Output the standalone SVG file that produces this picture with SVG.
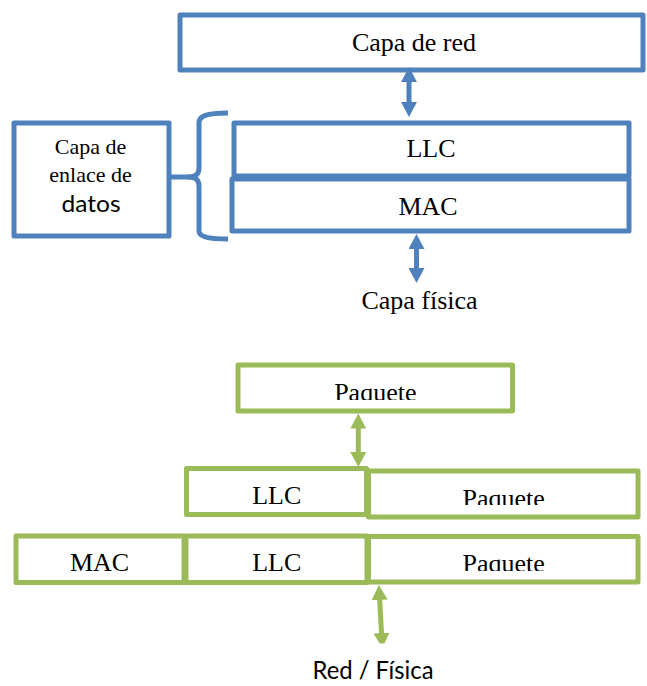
<svg xmlns="http://www.w3.org/2000/svg" width="647" height="686" viewBox="0 0 647 686">
<style>
  .b { fill: #ffffff; stroke: #4F81BD; stroke-width: 5; stroke-linejoin: round; }
  .g { fill: #ffffff; stroke: #9BBB59; stroke-width: 5; stroke-linejoin: round; }
  .bl { fill: none; stroke: #4F81BD; stroke-width: 5; }
  .gl { fill: none; stroke: #9BBB59; stroke-width: 5; }
  .serif { font-family: "Liberation Serif", "Times New Roman", serif; font-size: 26px; fill: #000; text-anchor: middle; }
  .small { font-size: 22px; }
  .sans { font-family: Lato, "Liberation Sans", Arial, sans-serif; fill: #000; text-anchor: middle; }
</style>
<defs>
  <marker id="hb" markerUnits="userSpaceOnUse" markerWidth="16" markerHeight="16" refX="5" refY="8" orient="auto-start-reverse">
    <path d="M0,0 L15,8 L0,16 z" fill="#4F81BD"/>
  </marker>
  <marker id="hg" markerUnits="userSpaceOnUse" markerWidth="16" markerHeight="16" refX="5" refY="8" orient="auto-start-reverse">
    <path d="M0,0 L15,8 L0,16 z" fill="#9BBB59"/>
  </marker>
  <clipPath id="c1"><rect x="0" y="360" width="647" height="40"/></clipPath>
  <clipPath id="c2"><rect x="0" y="470" width="366" height="34"/></clipPath>
  <clipPath id="c3"><rect x="366" y="470" width="281" height="35"/></clipPath>
  <clipPath id="c4"><rect x="0" y="538" width="647" height="33"/></clipPath>
  <clipPath id="c5"><rect x="0" y="580" width="647" height="63.5"/></clipPath>
</defs>

<!-- Top (blue) diagram -->
<g id="capa-red">
  <rect class="b" x="180" y="15" width="463" height="55"/>
  <text class="serif" x="414" y="50.5">Capa de red</text>
</g>
<g id="llc">
  <rect class="b" x="234" y="123" width="395" height="53"/>
  <text class="serif" x="431" y="157">LLC</text>
</g>
<g id="mac">
  <rect class="b" x="232" y="179" width="397" height="52"/>
  <text class="serif" x="428" y="215">MAC</text>
</g>
<g id="enlace">
  <rect class="b" x="14" y="123" width="155" height="113"/>
  <text class="serif small" x="90.5" y="153.5">Capa de</text>
  <text class="serif small" x="90.5" y="182">enlace de</text>
  <text class="sans" x="91" y="212" font-size="24" textLength="59" lengthAdjust="spacingAndGlyphs">datos</text>
</g>
<g id="capa-fisica">
  <text class="serif" x="419.5" y="309">Capa física</text>
</g>

<!-- Bottom (green) diagram -->
<g id="paquete-top">
  <rect class="g" x="238" y="365" width="274.5" height="46"/>
  <text class="serif" x="375.3" y="400.5" clip-path="url(#c1)">Paquete</text>
</g>
<g id="llc-2">
  <rect class="g" x="186.5" y="468.5" width="180" height="46"/>
  <text class="serif" x="276.8" y="504" clip-path="url(#c2)">LLC</text>
</g>
<g id="paquete-2">
  <rect class="g" x="368.5" y="471" width="269.5" height="46"/>
  <text class="serif" x="503.7" y="507" clip-path="url(#c3)">Paquete</text>
</g>
<g id="mac-3">
  <rect class="g" x="16" y="536" width="168" height="46.5"/>
  <text class="serif" x="99.5" y="571" clip-path="url(#c4)">MAC</text>
</g>
<g id="llc-3">
  <rect class="g" x="186" y="536" width="181" height="46.5"/>
  <text class="serif" x="276.8" y="571" clip-path="url(#c4)">LLC</text>
</g>
<g id="paquete-3">
  <rect class="g" x="368.5" y="536.5" width="269.5" height="45.5"/>
  <text class="serif" x="503.7" y="572" clip-path="url(#c4)">Paquete</text>
</g>
<g id="red-fisica">
  <text class="sans" x="373" y="679" font-size="25" textLength="121" lengthAdjust="spacingAndGlyphs">Red / Física</text>
</g>

<!-- Connectors -->
<g id="connectors">
  <path class="bl" d="M228,113 C206,113 199,116 199,123 L199,168 C199,174 196,177 188,177 C196,177 199,180 199,186 L199,231 C199,236 206,239 228,239"/>
  <path class="bl" d="M169,177 H190"/>
  <line class="bl" x1="409" y1="77" x2="409" y2="107" marker-start="url(#hb)" marker-end="url(#hb)"/>
  <line class="bl" x1="416.5" y1="244" x2="416.5" y2="273" marker-start="url(#hb)" marker-end="url(#hb)"/>
  <line class="gl" x1="358.3" y1="423.5" x2="358.3" y2="457" marker-start="url(#hg)" marker-end="url(#hg)"/>
  <g clip-path="url(#c5)">
    <line class="gl" x1="379.4" y1="595" x2="381.8" y2="638" marker-start="url(#hg)" marker-end="url(#hg)"/>
  </g>
</g>
</svg>
